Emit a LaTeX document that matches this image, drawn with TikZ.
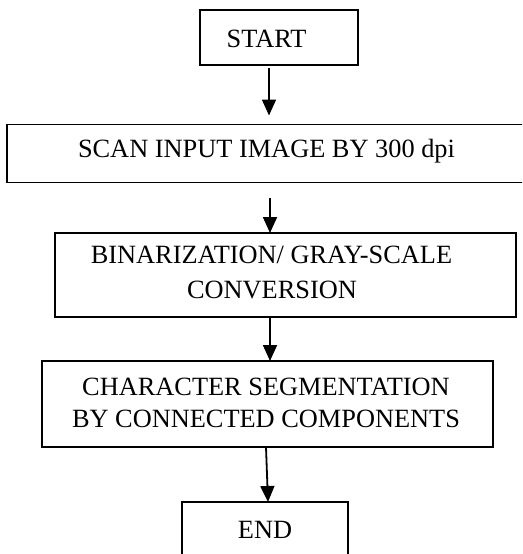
\documentclass[tikz,border=0pt]{standalone}
\usepackage{fontspec}
\setmainfont{Liberation Serif}
\usetikzlibrary{arrows.meta}
\begin{document}
\begin{tikzpicture}[x=1pt,y=1pt,
  box/.style={draw=black, line width=1.8pt, rectangle, inner sep=0pt, outer sep=0pt},
  txt/.style={anchor=base, inner sep=0pt, font=\fontsize{26.35}{32}\selectfont},
  arr/.style={line width=1.8pt, -{Triangle[length=16pt,width=14pt]}}]
\useasboundingbox (0,0) rectangle (522,-554);
\fill[white] (0,0) rectangle (522,-554);
\clip (0,0) rectangle (522,-554);
% boxes
\node[box, minimum width=158pt, minimum height=55pt] (start) at (279,-37.5) {};
\node[box, minimum width=533pt, minimum height=58pt] (scan) at (273.5,-153.5) {};
\node[box, minimum width=461pt, minimum height=84pt] (binar) at (285.5,-275) {};
\node[box, minimum width=451pt, minimum height=86pt] (char) at (267.5,-404) {};
\node[box, minimum width=166pt, minimum height=68pt] (end) at (265,-536) {};
% texts
\node[txt] (tstart) at (266.5,-47) {START};
\node[txt] (tscan) at (266.5,-157.3) {SCAN INPUT IMAGE BY 300 dpi};
\node[txt] (tbin1) at (271.5,-263) {BINARIZATION/ GRAY-SCALE};
\node[txt] (tbin2) at (272,-298) {CONVERSION};
\node[txt] (tchar1) at (266,-395) {CHARACTER SEGMENTATION};
\node[txt] (tchar2) at (266,-427) {BY CONNECTED COMPONENTS};
\node[txt] (tend) at (265,-538) {END};
% arrows
\draw[arr] ([xshift=-10pt,yshift=-3pt]start.south) -- ([xshift=-4.5pt,yshift=9pt]scan.north);
\draw[arr] ([xshift=-3.5pt,yshift=-15pt]scan.south) -- ([xshift=-15.5pt]binar.north);
\draw[arr] ([xshift=-15.5pt]binar.south) -- ([xshift=2.5pt]char.north);
\draw[arr] ([xshift=-1.5pt]char.south) -- ([xshift=3pt]end.north);
\end{tikzpicture}
\end{document}
